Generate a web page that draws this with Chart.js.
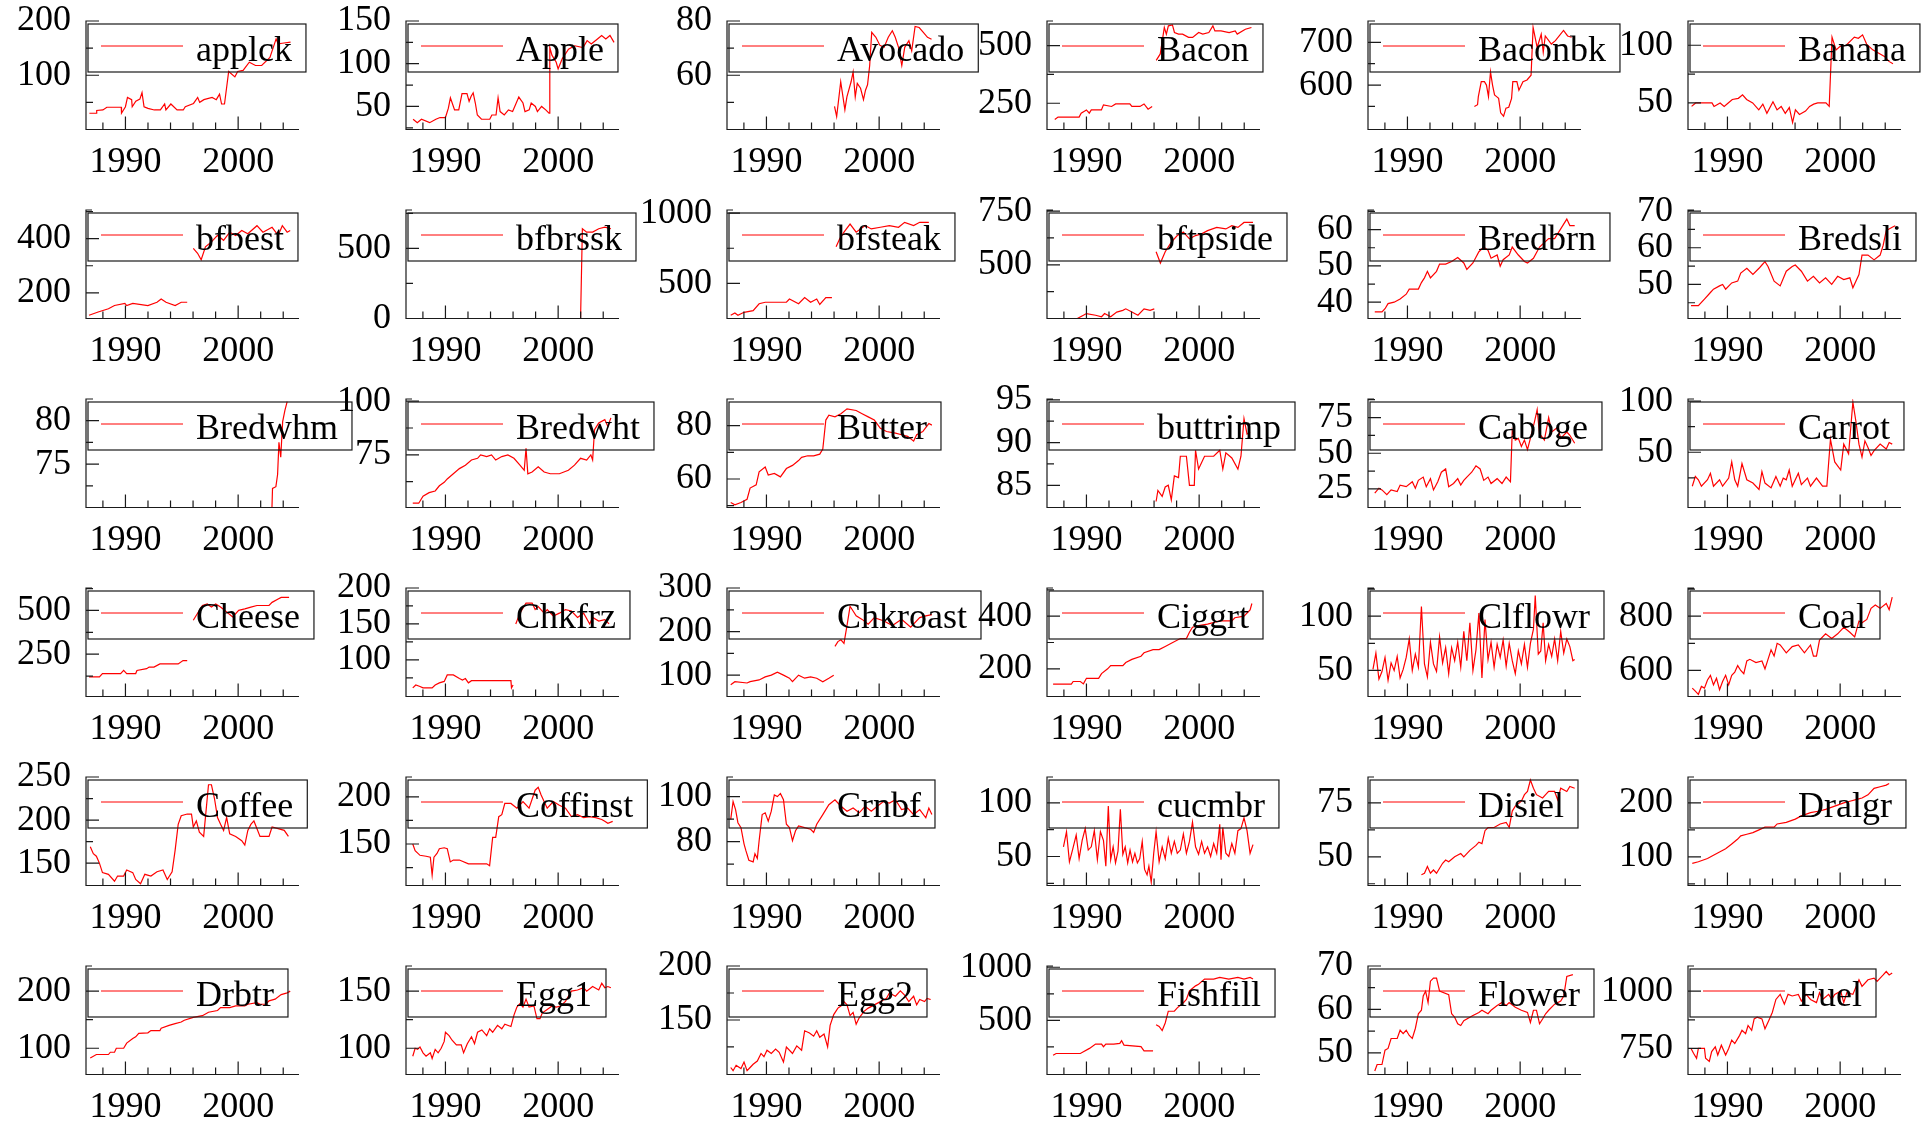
<!DOCTYPE html>
<html>
<head>
<meta charset="utf-8">
<script src="https://cdn.jsdelivr.net/npm/chart.js@4.4.1/dist/chart.umd.min.js"></script>
<style>
  html, body { margin: 0; padding: 0; background: #fff; overflow: hidden; }
  #grid { position: relative; width: 1922px; height: 1123px; overflow: hidden; }
  #grid canvas { position: absolute; }
</style>
</head>
<body>
<div id="grid"></div>
<script>
// series names, in panel order (6 x 6)
const names = ['applck', 'Apple', 'Avocado', 'Bacon', 'Baconbk', 'Banana',
  'bfbest', 'bfbrssk', 'bfsteak', 'bftpside', 'Bredbrn', 'Bredsli',
  'Bredwhm', 'Bredwht', 'Butter', 'buttrimp', 'Cabbge', 'Carrot',
  'Cheese', 'Chkfrz', 'Chkroast', 'Ciggrt', 'Clflowr', 'Coal',
  'Coffee', 'Coffinst', 'Crnbf', 'cucmbr', 'Disiel', 'Dralgr',
  'Drbtr', 'Egg1', 'Egg2', 'Fishfill', 'Flower', 'Fuel'];

// [year, value]; null marks a break in the series
const applck = [[1986.8,30],[1987.44,30],[1987.45,35],[1988,36],[1988.35,41],[1989.63,41],[1989.65,30],[1990,42],[1990.18,59],[1990.55,55],[1990.6,42],[1990.92,52],[1991.28,56],[1991.47,68],[1991.65,42],[1992,39],[1992.56,36],[1993.1,36],[1993.48,47],[1993.59,36],[1994.03,47],[1994.58,36],[1995.13,36],[1995.31,42],[1996.04,48],[1996.41,59],[1996.59,50],[1996.96,55],[1997.69,59],[1998.06,55],[1998.35,65],[1998.53,47],[1998.79,47],[1999.16,107],[1999.71,97],[1999.96,107],[2000.44,109],[2000.99,124],[2001.54,118],[2002.09,118],[2002.82,133],[2003.37,167],[2003.55,158],[2003.92,159],[2004.65,161]];
const apple = [[1987.13,35],[1987.5,31],[1987.87,35],[1988.6,31],[1989.15,35],[1989.52,37],[1990,37],[1990.26,48],[1990.44,60],[1990.81,46],[1991.18,46],[1991.47,65],[1991.91,65],[1992.1,56],[1992.28,62],[1992.46,66],[1992.65,54],[1992.83,40],[1993.2,35],[1993.93,35],[1994.12,40],[1994.49,40],[1994.67,60],[1994.85,44],[1995.22,40],[1995.59,46],[1995.96,44],[1996.51,61],[1996.88,54],[1997.06,44],[1997.43,46],[1997.61,54],[1997.98,50],[1998.16,44],[1998.53,50],[1998.9,46],[1999.19,42],[1999.26,119],[1999.45,110],[1999.82,102],[2000,94],[2000.37,106],[2000.92,117],[2001.47,121],[2002.21,119],[2002.57,127],[2002.94,123],[2003.49,129],[2003.86,133],[2004.23,129],[2004.6,133],[2004.96,125]];
const avocado = [[1996.04,48.5],[1996.23,44.8],[1996.59,57.6],[1996.96,47.3],[1997.14,52],[1997.51,57.6],[1997.69,61.2],[1997.88,52],[1998.06,57],[1998.35,55.2],[1998.61,51],[1998.79,54.5],[1998.97,56.5],[1999.16,63.6],[1999.34,75.8],[1999.71,74],[2000.07,71],[2000.44,70.3],[2000.81,74],[2001.17,76.4],[2001.43,74],[2001.72,70.3],[2002.01,63.6],[2002.27,70.3],[2002.64,72.7],[2002.89,69],[2003.19,78],[2003.55,77.6],[2003.92,75.8],[2004.29,74],[2004.65,73.3]];
const bacon = [[1987.19,179],[1987.48,190],[1989.35,190],[1989.53,207],[1990,221],[1990.25,207],[1990.43,221],[1991.33,221],[1991.51,243],[1992.23,236],[1992.59,247],[1993.85,247],[1994.03,236],[1994.75,236],[1995.11,247],[1995.47,224],[1995.83,236],[1996,null],[1996.19,436],[1996.55,464],[1996.91,579],[1997.09,550],[1997.27,586],[1997.63,590],[1997.81,557],[1998.17,550],[1998.53,550],[1999.06,536],[1999.42,536],[1999.96,557],[2000.32,550],[2000.86,557],[2001.22,586],[2001.4,564],[2001.94,564],[2002.66,557],[2003.2,564],[2003.38,550],[2004.1,571],[2004.64,579]];
const baconbk = [[1995.94,550],[1996.22,554],[1996.29,573],[1996.55,608],[1996.83,608],[1997.01,600],[1997.19,573],[1997.37,631],[1997.55,600],[1997.73,577],[1997.91,573],[1998.09,569],[1998.27,535],[1998.53,527],[1998.74,546],[1998.99,548],[1999.24,569],[1999.35,608],[1999.71,608],[1999.89,588],[2000.25,608],[2000.61,612],[2000.97,623],[2001.15,735],[2001.51,688],[2001.87,719],[2002.05,677],[2002.23,715],[2002.77,696],[2003.13,704],[2003.85,728],[2004.21,715],[2004.57,712]];
const banana = [[1986.82,47],[1987.18,50],[1988.63,50],[1988.81,47],[1989.35,50],[1989.71,47],[1990.07,50],[1990.43,53],[1990.97,54],[1991.34,57],[1991.7,53],[1992.24,50],[1992.78,44],[1993.14,49],[1993.5,41],[1994.04,51],[1994.4,44],[1994.77,47],[1995.13,41],[1995.49,46],[1995.78,33],[1996.03,44],[1996.39,40],[1996.93,43],[1997.29,47],[1997.65,49],[1998.01,50],[1998.74,50],[1999.03,47],[1999.28,107],[1999.64,96],[2000,99],[2000.54,100],[2001.26,107],[2001.62,106],[2001.99,109],[2002.35,101],[2002.89,96],[2003.43,93],[2003.97,90],[2004.33,86],[2004.69,84]];
const bfbest = [[1986.77,117],[1987.58,129],[1988.49,141],[1989.03,153],[1989.95,161],[1990.11,153],[1990.65,161],[1991.99,153],[1992.8,165],[1993.17,177],[1993.6,165],[1994.41,153],[1994.95,165],[1995.48,165],[1995.8,null],[1996.02,364],[1996.4,346],[1996.72,322],[1997.1,370],[1997.63,388],[1998.17,412],[1998.71,394],[1999.25,424],[1999.78,412],[2000.32,430],[2000.86,418],[2001.67,448],[2002.2,424],[2003.01,442],[2003.55,412],[2003.92,448],[2004.35,424],[2004.62,430]];
const bfbrssk = [[2001.18,0],[2001.99,0],[2002.15,640],[2002.53,616],[2003.06,616],[2003.6,640],[2004.14,651],[2004.68,640]];
const bfsteak = [[1986.83,272],[1987.2,288],[1987.47,272],[1988.01,293],[1988.82,305],[1989.35,354],[1989.89,365],[1991.77,365],[1992.04,388],[1992.85,354],[1993.39,398],[1993.92,365],[1994.46,388],[1994.73,349],[1995.27,398],[1995.81,398],[1996,null],[1996.18,760],[1996.51,819],[1996.88,865],[1997.42,923],[1997.96,865],[1998.76,912],[1999.3,888],[2000.11,900],[2000.91,912],[2001.72,900],[2002.26,935],[2003.06,912],[2003.6,935],[2004.41,935]];
const bftpside = [[1989.19,250],[1989.73,265],[1990,273],[1990.81,265],[1991.34,258],[1991.61,273],[1992.15,258],[1992.69,280],[1993.23,288],[1993.49,295],[1994.03,280],[1994.57,265],[1995.11,295],[1995.65,288],[1996.02,295],[1996.1,null],[1996.18,561],[1996.56,508],[1996.99,561],[1997.53,606],[1998.06,636],[1998.6,652],[1999.14,621],[1999.68,636],[2000.22,644],[2000.75,659],[2001.56,674],[2002.37,667],[2002.9,682],[2003.44,674],[2003.98,697],[2004.78,697]];
const bredbrn = [[1987.1,37.3],[1987.74,37.3],[1988.01,38.2],[1988.28,39.6],[1988.82,40],[1989.35,40.9],[1989.89,42.2],[1990.16,43.6],[1990.97,43.6],[1991.24,45.4],[1991.51,46.7],[1991.77,48.5],[1992.04,46.7],[1992.58,48.5],[1992.85,50.5],[1993.39,50.5],[1993.92,51.2],[1994.46,52.3],[1995,50.8],[1995.27,49],[1995.81,50.8],[1996.34,53.9],[1996.77,55.2],[1997.15,54.3],[1997.42,52.1],[1997.96,53],[1998.23,49.9],[1998.49,51.7],[1999.03,53],[1999.3,55.2],[1999.84,53],[2000.38,51.2],[2000.65,50.8],[2001.18,52.1],[2001.72,55.2],[2002.53,57.5],[2003.06,57.5],[2003.6,60.2],[2004.14,62.9],[2004.41,61.1],[2004.84,61.1]];
const bredsli = [[1986.77,44.2],[1987.42,44.2],[1987.96,46],[1988.49,47.8],[1988.76,48.7],[1989.3,49.6],[1989.57,50],[1989.84,48.7],[1990.38,50.4],[1990.91,50.9],[1991.18,53.1],[1991.72,54.4],[1992.26,52.7],[1992.8,54.4],[1993.06,55.3],[1993.33,56.2],[1993.6,54.9],[1994.14,50.9],[1994.68,49.6],[1995.22,53.6],[1995.75,54.9],[1996.02,55.3],[1996.56,53.6],[1997.1,50.9],[1997.63,52.2],[1998.17,50.4],[1998.71,51.8],[1999.25,50],[1999.78,52.2],[2000.32,51.3],[2000.86,51.8],[2001.13,49.1],[2001.67,52.7],[2001.94,58],[2002.47,58],[2003.01,56.7],[2003.55,58],[2003.82,60.7],[2004.09,64.7],[2004.62,65.6],[2004.89,66]];
const bredwhm = [[2002.98,69],[2003.05,72.2],[2003.35,72.4],[2003.5,73.8],[2003.62,77.5],[2003.78,75.8],[2003.95,79.9],[2004.15,81.2],[2004.35,82.2]];
const bredwht = [[1987.1,52.5],[1987.63,52.5],[1988.01,55.8],[1988.55,57.4],[1989.09,58.2],[1989.46,60.6],[1989.89,62.2],[1990.16,63.8],[1990.7,66.2],[1991.24,68.6],[1991.77,70.2],[1992.31,72.6],[1992.85,73.4],[1993.12,75],[1993.66,74.2],[1994.09,75],[1994.46,72.6],[1995,74.2],[1995.54,75],[1996.08,73.4],[1996.61,70.2],[1996.99,67.8],[1997.15,78.1],[1997.31,66.2],[1997.69,67],[1998.23,69.4],[1998.76,67],[1999.3,66.2],[2000.11,66.2],[2000.91,67.8],[2001.45,70.2],[2001.99,73.4],[2002.53,72.6],[2002.9,75],[2003.06,72.6],[2003.23,86.7],[2003.6,89.8],[2004.14,91.4],[2004.41,88.2],[2004.68,92.2]];
const butter = [[1986.83,51.2],[1987.2,50.3],[1987.74,51.2],[1988.28,52.4],[1988.55,56.6],[1989.09,57.8],[1989.35,62.7],[1989.89,64.5],[1990.16,61.5],[1990.7,62.1],[1991.24,60.8],[1991.77,63.9],[1992.31,65.1],[1992.85,66.9],[1993.12,68.1],[1993.66,68.7],[1994.19,68.7],[1994.73,69.3],[1995,71.2],[1995.27,82.1],[1995.54,83.9],[1996.08,83.3],[1996.61,84.5],[1997.15,86.3],[1997.96,85.7],[1998.49,84.5],[1999.03,83.3],[1999.57,82.1],[2000.11,79],[2000.65,77.8],[2001.45,77.2],[2001.99,76.6],[2002.53,76],[2003.06,74.2],[2003.33,76.6],[2003.87,77.8],[2004.41,80.8],[2004.68,80.2]];
const buttrimp = [[1996.18,83.1],[1996.34,84.4],[1996.72,83.7],[1996.99,84.8],[1997.26,85],[1997.53,83.3],[1997.8,86.1],[1998.17,85.9],[1998.33,88.4],[1998.87,88.4],[1999.14,85],[1999.57,85],[1999.68,89.1],[1999.95,86.9],[2000.48,88.4],[2001.29,88.4],[2001.83,89.1],[2002.1,86.9],[2002.37,88.8],[2002.9,88.2],[2003.44,86.9],[2003.71,88.4],[2003.98,92.8],[2004.25,91],[2004.52,91.2]];
const cabbge = [[1987.1,22],[1987.47,25.5],[1987.74,24.3],[1988.17,21],[1988.55,24.3],[1989.09,23.2],[1989.35,27.7],[1989.89,26.6],[1990.43,30],[1990.7,25.5],[1990.97,31],[1991.4,33.3],[1991.67,26.6],[1992.04,32.2],[1992.31,24.3],[1992.69,30],[1993.01,36.7],[1993.39,39],[1993.66,26.6],[1994.09,28.8],[1994.46,32.2],[1994.73,27.7],[1995,31],[1995.27,33.3],[1995.7,36.7],[1996.08,41.2],[1996.45,39],[1996.77,31],[1997.15,33.3],[1997.42,28.8],[1997.96,32.2],[1998.39,28.8],[1998.76,33.3],[1999.14,30],[1999.3,66],[1999.57,59.2],[1999.84,60.4],[2000.11,54.7],[2000.38,59.2],[2000.65,52.5],[2000.91,60.4],[2001.29,72.7],[2001.51,80.6],[2001.72,63.7],[2002.15,59.2],[2002.53,75],[2002.8,64.9],[2003.33,68.2],[2003.6,60.4],[2004.14,64.9],[2004.41,62.6],[2004.84,57]];
const carrot = [[1986.88,16.8],[1987.15,26.3],[1987.42,23.1],[1987.69,16.8],[1988.23,23.1],[1988.49,29.4],[1988.76,16.8],[1989.3,23.1],[1989.57,16.8],[1990.11,24.7],[1990.38,40.5],[1990.65,23.1],[1990.91,16.8],[1991.29,38.9],[1991.72,23.1],[1992.26,19.9],[1992.8,13.6],[1993.06,31],[1993.33,19.9],[1993.87,15.2],[1994.3,26.3],[1994.68,16.8],[1994.95,24.7],[1995.22,23.1],[1995.48,32.6],[1995.75,16.8],[1996.02,23.1],[1996.29,29.4],[1996.56,18.4],[1997.1,24.7],[1997.37,16.8],[1997.9,24.7],[1998.44,16.8],[1998.82,16.8],[1999.14,62.7],[1999.52,40.5],[2000.05,32.6],[2000.32,57.9],[2000.75,48.4],[2001.13,99],[2001.4,80],[2001.67,57.9],[2001.94,45.3],[2002.2,61.1],[2002.47,54.7],[2002.74,46.8],[2003.01,51.6],[2003.55,57.9],[2004.09,53.2],[2004.35,59.5],[2004.62,57.9]];
const cheese = [[1986.77,120],[1987.69,120],[1987.96,139],[1989.57,139],[1989.84,157],[1990.11,139],[1990.91,139],[1991.02,157],[1991.88,167],[1992.1,176],[1992.53,176],[1993.06,194],[1994.68,194],[1995.11,213],[1995.48,213],[1995.8,null],[1996.02,444],[1996.29,472],[1996.83,528],[1997.26,537],[1997.63,519],[1998.01,537],[1998.44,519],[1998.98,491],[1999.52,463],[2000.05,500],[2000.59,509],[2001.13,519],[2001.67,528],[2002.74,528],[2003.01,546],[2003.55,565],[2003.82,574],[2004.52,574]];
const chkfrz = [[1987.1,61],[1987.37,65],[1987.74,63],[1988.01,61],[1988.82,61],[1989.09,65],[1989.46,68],[1989.89,70],[1990.16,79],[1990.7,79],[1991.24,74],[1991.51,72],[1991.77,74],[1992.04,68],[1992.31,71],[1995.81,71],[1995.86,61],[1996,65],[1996.1,null],[1996.24,150],[1996.61,165],[1997.15,179],[1997.69,179],[1997.96,170],[1998.23,174],[1998.76,165],[1999.03,170],[1999.57,161],[2000.11,165],[2000.65,170],[2001.18,168],[2001.72,159],[2002.26,165],[2002.8,150],[2003.06,159],[2003.6,154],[2004.14,156],[2004.52,150]];
const chkroast = [[1986.83,78],[1987.2,85],[1988.28,82],[1988.55,85],[1989.35,89],[1989.89,96],[1990.43,100],[1990.97,107],[1991.51,100],[1992.04,93],[1992.31,85],[1992.85,100],[1993.39,93],[1993.92,96],[1994.46,93],[1995,85],[1995.54,93],[1995.97,100],[1996.02,null],[1996.08,166],[1996.34,177],[1996.61,181],[1996.88,173],[1997.15,214],[1997.42,258],[1997.96,236],[1998.49,228],[1999.03,217],[1999.57,232],[2000.38,225],[2001.18,214],[2001.99,228],[2002.8,210],[2003.6,232],[2004.14,236],[2004.68,239]];
const ciggrt = [[1987.04,142],[1988.66,142],[1988.82,152],[1989.46,152],[1989.73,143],[1990,164],[1991.08,164],[1991.34,182],[1991.88,200],[1992.15,212],[1993.23,212],[1993.49,224],[1994.03,236],[1994.84,248],[1995.11,261],[1995.91,273],[1996.45,273],[1996.99,285],[1997.53,297],[1998.33,315],[1998.87,315],[1999.14,339],[1999.41,358],[1999.95,364],[2000.75,370],[2001.83,382],[2002.9,382],[2003.17,394],[2003.98,400],[2004.52,424],[2004.68,448]];
const clflowr = [[1986.94,51],[1987.2,66],[1987.47,42],[1987.74,49],[1988.01,62],[1988.28,41],[1988.55,57],[1988.82,50],[1989.09,63],[1989.35,43],[1989.62,51],[1989.89,62],[1990.16,79],[1990.43,50],[1990.7,65],[1990.97,53],[1991.24,109],[1991.51,56],[1991.77,44],[1992.04,76],[1992.31,56],[1992.58,49],[1992.85,81],[1993.12,57],[1993.39,71],[1993.66,47],[1993.92,71],[1994.19,59],[1994.46,76],[1994.73,53],[1995,86],[1995.27,59],[1995.54,94],[1995.81,50],[1996.08,69],[1996.34,103],[1996.61,43],[1996.88,97],[1997.15,60],[1997.42,76],[1997.69,53],[1997.96,74],[1998.23,62],[1998.49,78],[1998.76,54],[1999.03,75],[1999.3,59],[1999.57,47],[1999.84,68],[2000.11,56],[2000.38,74],[2000.65,53],[2000.91,75],[2001.18,88],[2001.34,119],[2001.61,65],[2001.83,68],[2002.04,94],[2002.26,59],[2002.53,74],[2002.8,63],[2003.06,79],[2003.33,59],[2003.6,86],[2003.87,66],[2004.14,79],[2004.41,72],[2004.68,59],[2004.84,60]];
const coal = [[1986.88,535],[1987.15,524],[1987.42,512],[1987.69,541],[1987.96,535],[1988.23,565],[1988.49,582],[1988.76,547],[1989.03,571],[1989.3,529],[1989.57,559],[1989.84,582],[1990.11,547],[1990.38,582],[1990.65,594],[1990.91,618],[1991.18,600],[1991.45,588],[1991.72,635],[1991.99,641],[1992.53,629],[1993.06,635],[1993.33,606],[1993.6,641],[1993.87,676],[1994.14,653],[1994.41,700],[1994.68,694],[1995.22,665],[1995.75,688],[1996.29,694],[1996.83,665],[1997.37,694],[1997.63,653],[1997.9,653],[1998.17,712],[1998.71,735],[1999.25,718],[1999.78,735],[2000.32,759],[2000.86,741],[2001.29,724],[2001.67,782],[2001.94,776],[2002.37,788],[2002.74,829],[2003.12,841],[2003.55,829],[2004.09,847],[2004.35,824],[2004.62,870]];
const coffee = [[1986.88,169],[1987.15,161],[1987.42,158],[1987.69,150],[1987.96,139],[1988.49,137],[1989.03,129],[1989.3,135],[1989.84,135],[1990.11,142],[1990.65,139],[1990.91,131],[1991.34,126],[1991.72,137],[1992.26,135],[1992.8,140],[1993.33,142],[1993.71,131],[1994.14,140],[1994.41,165],[1994.68,195],[1994.95,205],[1995.48,207],[1995.86,207],[1996.02,192],[1996.29,199],[1996.56,186],[1996.94,181],[1997.37,241],[1997.63,241],[1997.9,225],[1998.17,203],[1998.44,195],[1998.71,188],[1998.98,203],[1999.25,184],[1999.78,181],[2000.32,176],[2000.59,171],[2000.86,188],[2001.13,195],[2001.4,199],[2001.94,181],[2002.74,181],[2003.01,192],[2003.55,190],[2004.09,188],[2004.46,181]];
const coffinst = [[1987.1,150],[1987.31,143],[1987.74,138],[1988.28,137],[1988.66,136],[1988.82,117],[1988.98,136],[1989.25,140],[1989.46,145],[1989.89,146],[1990.16,145],[1990.43,131],[1990.7,133],[1991.24,133],[1992.04,129],[1993.66,129],[1993.92,127],[1994.19,157],[1994.46,157],[1994.73,179],[1995,181],[1995.27,193],[1995.81,193],[1996.34,188],[1996.88,195],[1997.42,188],[1997.96,207],[1998.23,210],[1998.49,202],[1999.03,188],[1999.57,195],[2000.11,191],[2000.65,188],[2001.18,179],[2001.72,181],[2002.26,178],[2002.8,179],[2003.33,178],[2003.87,176],[2004.14,174],[2004.41,172],[2004.84,174]];
const crnbf = [[1986.83,89.9],[1987.04,97.8],[1987.26,94.2],[1987.47,88.4],[1987.74,86.2],[1988.01,79],[1988.17,76.1],[1988.44,71.7],[1988.82,71],[1988.98,74.6],[1989.19,72.5],[1989.35,80.4],[1989.62,92],[1989.89,92.8],[1990.16,89.1],[1990.43,93.5],[1990.7,100.7],[1990.97,100],[1991.24,101.4],[1991.51,98.6],[1991.77,87.7],[1992.04,86.2],[1992.31,80.4],[1992.58,84.8],[1992.85,87],[1993.39,86.2],[1993.92,85.5],[1994.19,84.1],[1994.46,87.7],[1995,92],[1995.27,94.2],[1995.54,96.4],[1996.08,98.6],[1996.61,95.7],[1997.15,93.5],[1997.69,94.9],[1998.23,92.8],[1998.76,95.7],[1999.3,93.5],[1999.84,95.7],[2000.38,97.8],[2000.91,97.1],[2001.45,98.6],[2001.99,94.2],[2002.53,94.9],[2003.06,92],[2003.6,94.2],[2004.14,90.6],[2004.41,94.9],[2004.68,92]];
const cucmbr = [[1987.96,59],[1988.23,73],[1988.49,45],[1988.76,56],[1989.09,70],[1989.35,48],[1989.62,65],[1989.89,76],[1990.16,56],[1990.43,59],[1990.7,74],[1990.97,47],[1991.24,73],[1991.51,65],[1991.72,41],[1991.94,97],[1992.15,47],[1992.37,59],[1992.58,44],[1992.8,55],[1993.01,94],[1993.23,52],[1993.44,59],[1993.66,44],[1993.87,56],[1994.09,45],[1994.3,53],[1994.52,44],[1994.73,48],[1994.95,64],[1995.16,38],[1995.38,33],[1995.54,41],[1995.75,26],[1995.97,53],[1996.18,73],[1996.45,45],[1996.72,59],[1996.99,48],[1997.26,67],[1997.53,53],[1997.8,64],[1998.06,53],[1998.33,56],[1998.6,71],[1998.87,53],[1999.14,64],[1999.41,82],[1999.68,59],[1999.95,52],[2000.22,64],[2000.48,53],[2000.75,59],[2001.02,50],[2001.29,62],[2001.56,53],[2001.83,80],[2001.94,47],[2002.1,77],[2002.37,53],[2002.63,50],[2002.9,62],[2003.17,53],[2003.44,74],[2003.71,76],[2003.98,86],[2004.25,74],[2004.52,53],[2004.78,61]];
const disiel = [[1991.24,41.7],[1991.51,42.4],[1991.77,45.5],[1992.04,42.4],[1992.31,43.9],[1992.58,42.4],[1993.12,47],[1993.39,48.5],[1993.66,47.7],[1994.19,50],[1994.73,51.5],[1995,50],[1995.54,53],[1996.08,55.3],[1996.34,56.8],[1996.61,56.1],[1996.88,62.1],[1997.15,63.6],[1997.69,63.6],[1998.23,65.2],[1998.76,65.9],[1999.03,63.6],[1999.3,71.2],[1999.57,73.5],[2000.11,75.8],[2000.38,78.8],[2000.65,80.3],[2000.91,85.6],[2001.18,81.8],[2001.45,78.8],[2001.99,77.3],[2002.26,78.8],[2002.53,80.3],[2003.06,80.3],[2003.33,76.5],[2003.6,81.8],[2004.14,80.3],[2004.41,82.6],[2004.84,81.8]];
const dralgr = [[1986.88,88],[1987.42,91],[1988.23,97],[1988.76,103],[1989.3,109],[1989.84,115],[1990.38,124],[1990.91,133],[1991.18,139],[1991.72,142],[1992.26,145],[1992.8,150],[1993.33,155],[1994.14,155],[1994.41,161],[1995.22,164],[1996.02,170],[1996.56,176],[1997.37,182],[1998.17,185],[1998.71,188],[1999.52,194],[2000.32,200],[2000.86,203],[2001.4,206],[2001.94,209],[2002.47,215],[2003.01,227],[2003.55,230],[2004.09,233],[2004.35,236]];
const drbtr = [[1986.88,83],[1987.42,89],[1988.49,89],[1988.66,93],[1989.03,93],[1989.19,100],[1989.84,100],[1990.11,109],[1990.65,117],[1990.91,120],[1991.18,126],[1991.99,127],[1992.26,131],[1993.06,131],[1993.17,135],[1993.87,140],[1994.41,143],[1994.95,146],[1995.22,149],[1996.02,154],[1996.83,157],[1997.37,163],[1998.17,166],[1998.44,171],[1999.25,171],[1999.78,174],[2000.59,174],[2000.86,177],[2001.67,180],[2001.94,177],[2002.47,177],[2002.74,183],[2003.28,186],[2003.82,194],[2004.35,197],[2004.62,200]];
const egg1 = [[1987.1,93],[1987.31,100],[1987.53,99],[1987.74,101],[1988.01,96],[1988.28,93],[1988.66,96],[1988.82,91],[1989.09,99],[1989.35,96],[1989.62,100],[1989.89,106],[1990,114],[1990.32,111],[1990.59,107],[1990.97,103],[1991.4,103],[1991.61,96],[1991.94,104],[1992.31,110],[1992.58,104],[1992.85,114],[1993.23,116],[1993.66,111],[1993.92,117],[1994.19,114],[1994.62,120],[1995,117],[1995.27,121],[1995.81,119],[1996.08,129],[1996.34,136],[1996.61,139],[1996.88,136],[1997.15,143],[1997.42,136],[1997.85,137],[1998.12,126],[1998.39,126],[1998.6,131],[1999.03,134],[1999.46,137],[1999.84,136],[2000.22,137],[2000.65,141],[2001.18,150],[2001.72,151],[2002.26,153],[2002.53,150],[2003.06,154],[2003.6,151],[2003.87,157],[2004.14,153],[2004.41,154],[2004.68,153]];
const egg2 = [[1986.83,106],[1987.04,103],[1987.31,108],[1987.74,105],[1988.01,111],[1988.28,103],[1988.55,106],[1988.82,109],[1989.19,112],[1989.52,119],[1989.78,116],[1990.05,122],[1990.43,119],[1990.81,123],[1991.13,120],[1991.51,111],[1991.77,125],[1992.31,119],[1992.69,126],[1993.12,122],[1993.39,140],[1993.82,138],[1994.19,135],[1994.46,140],[1994.73,134],[1995.11,137],[1995.43,125],[1995.65,145],[1995.97,155],[1996.34,161],[1996.61,163],[1996.88,167],[1997.15,164],[1997.42,154],[1997.69,157],[1997.96,146],[1998.23,152],[1998.66,158],[1999.03,161],[1999.57,164],[2000.11,167],[2000.65,170],[2000.91,175],[2001.45,172],[2001.88,177],[2002.26,173],[2002.63,167],[2003.06,172],[2003.33,164],[2003.6,169],[2004.03,167],[2004.25,170],[2004.57,169]];
const fishfill = [[1987.04,172],[1987.31,188],[1989.46,188],[1989.73,204],[1990.27,236],[1990.81,277],[1991.34,277],[1991.51,252],[1991.72,277],[1992.42,277],[1992.96,283],[1993.12,309],[1993.33,267],[1994.84,252],[1995.11,213],[1995.91,213],[1996.05,null],[1996.18,459],[1996.45,443],[1996.72,404],[1996.99,475],[1997.26,586],[1997.8,586],[1998.06,618],[1998.6,666],[1998.87,697],[1999.14,777],[1999.68,825],[1999.95,841],[2000.48,889],[2001.29,889],[2001.83,904],[2002.63,889],[2003.44,904],[2003.98,889],[2004.52,904],[2004.78,889]];
const flower = [[1987.1,45.8],[1987.31,47.3],[1987.74,47.3],[1988.01,50.6],[1988.28,51],[1988.55,53.3],[1989.09,53.3],[1989.35,55.2],[1989.62,54.4],[1989.89,55.2],[1990.16,54],[1990.43,53.3],[1990.7,55.6],[1990.97,59],[1991.24,59.8],[1991.4,63.1],[1991.61,64.2],[1991.83,61.6],[1992.04,66.5],[1992.31,67.2],[1992.58,67.2],[1992.85,64.2],[1993.66,63.4],[1993.92,59],[1994.19,58.2],[1994.46,56.7],[1994.73,56.3],[1995,57.4],[1995.54,58.2],[1995.81,58.6],[1996.34,59.3],[1996.61,59.8],[1997.15,59],[1997.42,59.8],[1997.96,60.9],[1998.39,61.6],[1998.76,60.9],[1999.03,61.6],[1999.57,60.5],[2000.11,59.8],[2000.65,59.3],[2000.91,57],[2001.18,59.8],[2001.45,59.8],[2001.72,56.7],[2001.99,57.8],[2002.26,59],[2002.53,59.8],[2003.06,61.2],[2003.6,61.9],[2003.87,63.1],[2004.14,67.6],[2004.68,68]];
const fuel = [[1986.77,750],[1986.99,729],[1987.26,707],[1987.42,750],[1987.96,750],[1988.06,707],[1988.39,693],[1988.6,736],[1988.92,757],[1989.14,721],[1989.46,764],[1989.84,721],[1990.11,750],[1990.38,786],[1990.65,771],[1991.08,807],[1991.29,829],[1991.61,814],[1991.83,850],[1992.15,829],[1992.37,879],[1992.63,886],[1993.06,879],[1993.33,836],[1993.66,871],[1993.98,907],[1994.3,964],[1994.68,986],[1995.05,943],[1995.38,986],[1995.75,979],[1996.29,986],[1996.56,957],[1996.99,986],[1997.37,964],[1997.9,950],[1998.17,993],[1998.44,964],[1998.98,986],[1999.25,964],[1999.52,986],[2000.05,1000],[2000.32,950],[2000.59,993],[2001.13,986],[2001.67,1050],[2001.94,1021],[2002.47,1050],[2003.01,1057],[2003.28,1043],[2003.55,1057],[2003.82,1071],[2004.09,1086],[2004.35,1071],[2004.62,1079]];

const series = [applck, apple, avocado, bacon, baconbk, banana,
  bfbest, bfbrssk, bfsteak, bftpside, bredbrn, bredsli,
  bredwhm, bredwht, butter, buttrimp, cabbge, carrot,
  cheese, chkfrz, chkroast, ciggrt, clflowr, coal,
  coffee, coffinst, crnbf, cucmbr, disiel, dralgr,
  drbtr, egg1, egg2, fishfill, flower, fuel];

// axis ranges and ticks per panel
const yMin = [0, 23, 40, 136, 496, 27, 105, 0, 249, 250, 35.5, 40.7,
  70, 50.5, 49.3, 82.4, 12, -4, 8, 49, 51, 95, 26, 504,
  124, 106, 60.5, 23, 36.7, 47, 54, 77, 99.5, -10, 45, 636];
const yMax = [200, 150, 80, 607, 750, 121, 506, 774, 1023, 755, 65.4, 70.3,
  82.5, 101, 90, 95.1, 88, 102, 628, 200, 300, 507, 126, 904,
  250, 221, 108.7, 124, 87, 248, 244, 172, 200, 1012, 70, 1110];
const yMajor = [[100,200],[50,100,150],[60,80],[250,500],[600,700],[50,100],
  [200,400],[0,500],[500,1000],[500,750],[40,50,60],[50,60,70],
  [75,80],[75,100],[60,80],[85,90,95],[25,50,75],[50,100],
  [250,500],[100,150,200],[100,200,300],[200,400],[50,100],[600,800],
  [150,200,250],[150,200],[80,100],[50,100],[50,75],[100,200],
  [100,200],[100,150],[150,200],[500,1000],[50,60,70],[750,1000]];
const yMinor = [[50,150],[25,75,125],[50,70],[375],[550,650,750],[75],
  [300,500],[250,750],[750],[375,625],[45,55,65],[45,55,65],
  [72.5,77.5,82.5],[62.5,87.5],[50,70,90],[87.5,92.5],[37.5,62.5,87.5],[25,75],
  [125,375,625],[75,125,175],[150,250],[300,500],[75,125],[700,900],
  [175,225],[125,175],[70,90],[25,75],[37.5,62.5],[50,150],
  [150],[125],[125,175],[250,750],[55,65],[875]];
const xMin = 1986.5, xMax = 2005.4;
const xMajor = [1990, 2000];
const xMinor = [1988, 1992, 1994, 1996, 1998, 2002, 2004];

const FONT = 'Liberation Serif';
const CELL_W = 320.4, CELL_H = 189;
const CANVAS_W = 430, CANVAS_H = 189;
const PLOT_LEFT = 106, PLOT_TOP = 21, PLOT_W = 213, PLOT_BOTTOM = 129.5;

Chart.defaults.font.family = FONT;
Chart.defaults.color = '#000';

// gnuplot-like frame: left/bottom border, inward ticks, boxed key
function framePlugin(i) {
  return {
    id: 'frame' + i,
    afterDraw(chart) {
      const { ctx, chartArea: a, scales } = chart;
      const xs = scales.x, ys = scales.y;
      ctx.save();
      ctx.strokeStyle = '#1a1a1a';
      ctx.lineWidth = 1.2;
      ctx.beginPath();
      ctx.moveTo(a.left + 6, a.top);
      ctx.lineTo(a.left, a.top);
      ctx.lineTo(a.left, a.bottom);
      ctx.lineTo(a.right, a.bottom);
      xMajor.forEach(v => {
        const p = xs.getPixelForValue(v);
        ctx.moveTo(p, a.bottom); ctx.lineTo(p, a.bottom - 13);
      });
      xMinor.forEach(v => {
        const p = xs.getPixelForValue(v);
        ctx.moveTo(p, a.bottom); ctx.lineTo(p, a.bottom - 7);
      });
      yMajor[i].forEach(v => {
        const p = ys.getPixelForValue(v);
        if (p < a.top - 1 || p > a.bottom + 1) return;
        ctx.moveTo(a.left, p); ctx.lineTo(a.left + 13, p);
      });
      yMinor[i].forEach(v => {
        const p = ys.getPixelForValue(v);
        if (p < a.top - 1 || p > a.bottom + 1) return;
        ctx.moveTo(a.left, p); ctx.lineTo(a.left + 7, p);
      });
      ctx.stroke();

      // key box
      ctx.font = '36px "' + FONT + '"';
      const tw = ctx.measureText(names[i]).width;
      const bx = a.left + 2, by = a.top + 3;
      ctx.lineWidth = 1.2;
      ctx.strokeRect(bx, by, 122 + tw, 48);
      ctx.strokeStyle = '#ff0000';
      ctx.lineWidth = 1;
      ctx.beginPath();
      ctx.moveTo(bx + 13, by + 22);
      ctx.lineTo(bx + 95, by + 22);
      ctx.stroke();
      ctx.fillStyle = '#000';
      ctx.textAlign = 'left';
      ctx.textBaseline = 'alphabetic';
      ctx.fillText(names[i], bx + 108, by + 37);
      ctx.restore();
    }
  };
}

const grid = document.getElementById('grid');

names.forEach((name, i) => {
  const row = Math.floor(i / 6), col = i % 6;
  const cv = document.createElement('canvas');
  cv.width = CANVAS_W;
  cv.height = CANVAS_H;
  cv.style.left = (col * CELL_W - 20) + 'px';
  cv.style.top = (row * CELL_H) + 'px';
  cv.style.width = CANVAS_W + 'px';
  cv.style.height = CANVAS_H + 'px';
  grid.appendChild(cv);

  new Chart(cv, {
    type: 'line',
    data: {
      datasets: [{
        label: name,
        data: series[i].map(p => ({ x: p[0], y: p[1] })),
        borderColor: '#ff0000',
        borderWidth: 1.2,
        pointRadius: 0,
        tension: 0,
        fill: false,
        spanGaps: false
      }]
    },
    options: {
      responsive: false,
      animation: false,
      devicePixelRatio: 1,
      events: [],
      layout: { padding: { top: PLOT_TOP, right: CANVAS_W - PLOT_LEFT - PLOT_W, bottom: 0, left: 0 } },
      plugins: { legend: { display: false }, tooltip: { enabled: false } },
      scales: {
        x: {
          type: 'linear',
          min: xMin,
          max: xMax,
          grid: { display: false, drawTicks: false },
          border: { display: false },
          afterBuildTicks: s => { s.ticks = xMajor.map(v => ({ value: v })); },
          afterFit: s => { s.height = CANVAS_H - PLOT_BOTTOM; s.paddingLeft = 0; s.paddingRight = 0; },
          ticks: {
            autoSkip: false,
            maxRotation: 0,
            padding: 11,
            color: '#000',
            font: { size: 36, family: FONT },
            callback: v => String(v)
          }
        },
        y: {
          type: 'linear',
          min: yMin[i],
          max: yMax[i],
          grid: { display: false, drawTicks: false },
          border: { display: false },
          afterBuildTicks: s => { s.ticks = yMajor[i].map(v => ({ value: v })); },
          afterFit: s => { s.width = PLOT_LEFT; s.paddingTop = 0; s.paddingBottom = 0; },
          ticks: {
            autoSkip: false,
            padding: 15,
            color: '#000',
            font: { size: 36, family: FONT },
            callback: v => String(v)
          }
        }
      }
    },
    plugins: [framePlugin(i)]
  });
});
</script>
</body>
</html>
